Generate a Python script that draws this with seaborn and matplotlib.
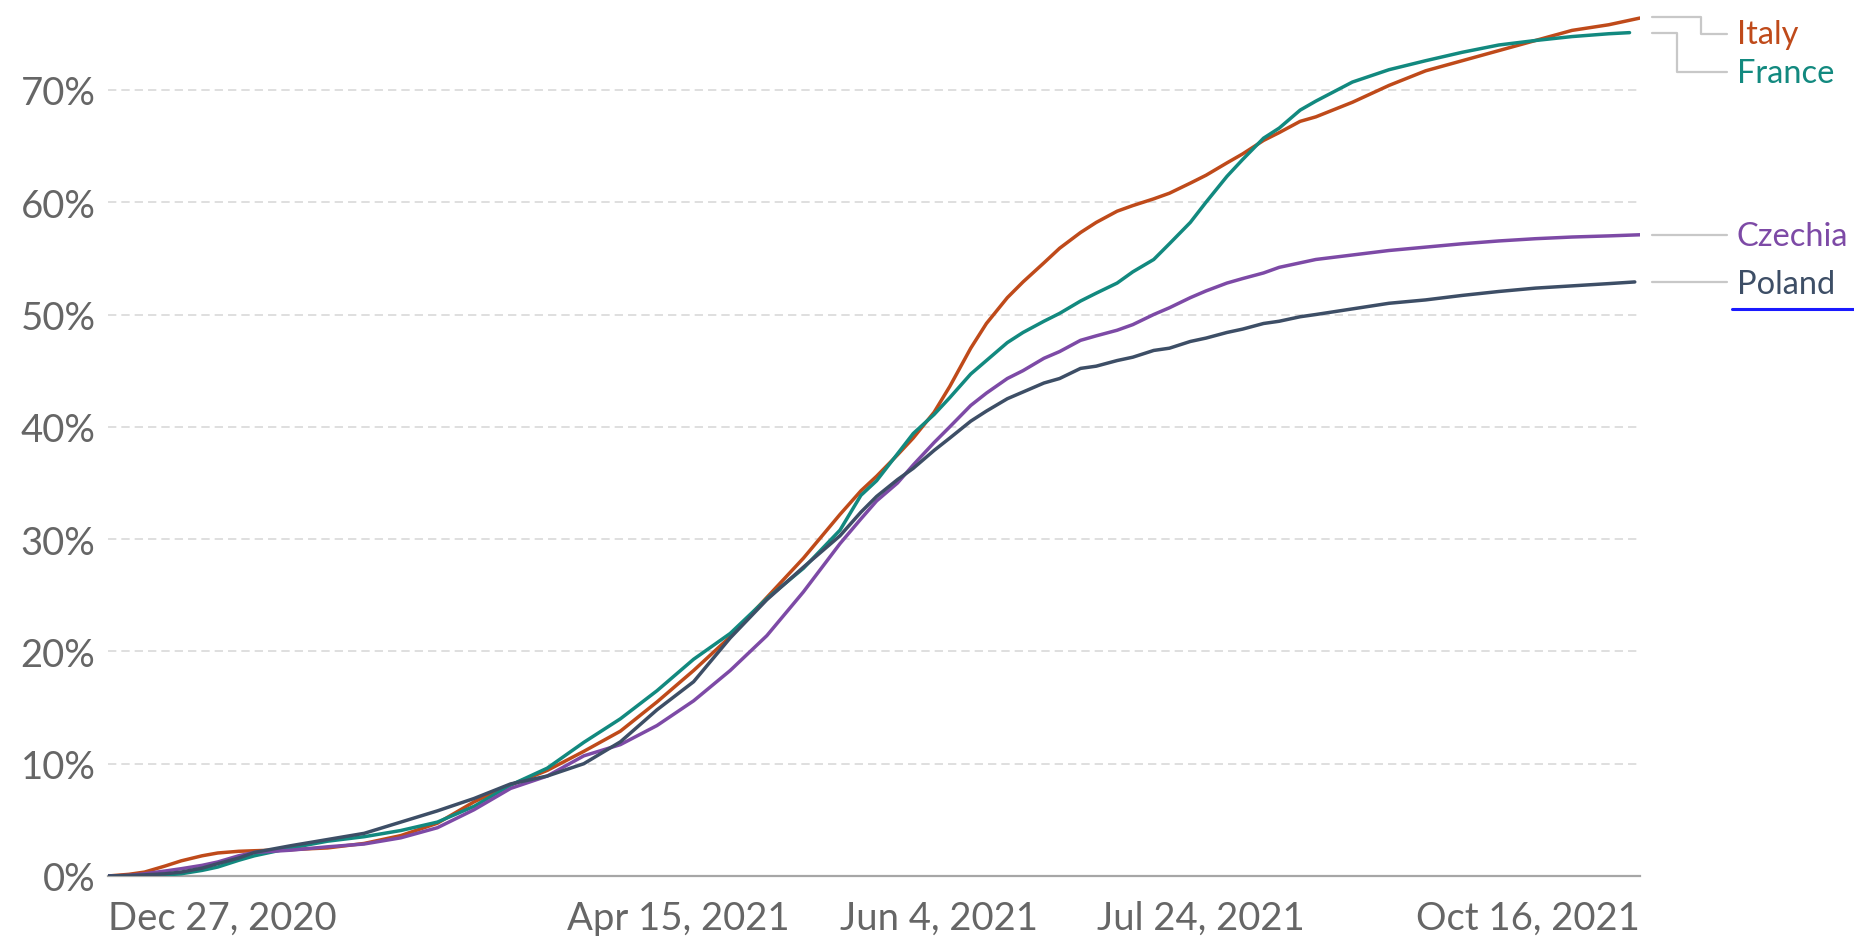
import numpy as np
import pandas as pd
import matplotlib
matplotlib.use("Agg")
import matplotlib.pyplot as plt
from matplotlib.lines import Line2D
import seaborn as sns

# ---------------- data (share of population fully vaccinated, %) ----------------
start_date = "2020-12-27"
day_offsets = [0, 4, 7, 11, 14, 18, 21, 25, 28,
               35, 42, 49, 56, 63, 70, 77, 84, 91, 98, 105, 112, 119, 126, 133, 140,
               144, 147, 151, 154, 158, 161, 165, 168, 172, 175, 179, 182, 186, 189,
               193, 196, 200, 203, 207, 210, 214, 217, 221, 224, 228, 231,
               238, 245, 252, 259, 266, 273, 280, 287]

italy = [0.0, 0.15, 0.35, 0.9, 1.35, 1.8, 2.05, 2.2, 2.25,
         2.35, 2.5, 2.9, 3.6, 4.7, 6.6, 8.1, 9.4, 11.1, 12.9, 15.5, 18.3, 21.3, 24.8, 28.3, 32.2,
         34.3, 35.6, 37.5, 39.0, 41.3, 43.6, 47.0, 49.2, 51.5, 52.9, 54.6, 55.9, 57.3, 58.2,
         59.2, 59.7, 60.3, 60.8, 61.7, 62.4, 63.5, 64.3, 65.5, 66.2, 67.2, 67.6,
         68.9, 70.4, 71.7, 72.6, 73.5, 74.4, 75.3, 75.8]
italy_last = (293, 76.4)

france = [0.0, 0.02, 0.05, 0.1, 0.2, 0.5, 0.8, 1.4, 1.8,
          2.5, 3.1, 3.5, 4.05, 4.8, 6.2, 8.1, 9.6, 11.9, 14.0, 16.5, 19.3, 21.6, 24.7, 27.4, 30.8,
          33.9, 35.2, 37.6, 39.4, 41.1, 42.6, 44.7, 45.9, 47.5, 48.4, 49.4, 50.1, 51.2, 51.9,
          52.8, 53.8, 54.9, 56.3, 58.2, 60.0, 62.3, 63.8, 65.7, 66.6, 68.2, 69.0,
          70.7, 71.8, 72.6, 73.35, 74.0, 74.4, 74.75, 75.0]
france_last = (291, 75.1)

czechia = [0.0, 0.05, 0.2, 0.45, 0.65, 0.95, 1.25, 1.8, 2.1,
           2.3, 2.6, 2.85, 3.4, 4.3, 5.9, 7.8, 8.9, 10.7, 11.7, 13.4, 15.6, 18.3, 21.4, 25.3, 29.6,
           31.8, 33.4, 35.0, 36.6, 38.6, 40.0, 41.9, 43.0, 44.3, 45.0, 46.1, 46.7, 47.7, 48.1,
           48.6, 49.1, 50.0, 50.6, 51.5, 52.1, 52.8, 53.2, 53.7, 54.2, 54.6, 54.9,
           55.3, 55.7, 56.0, 56.3, 56.55, 56.75, 56.9, 57.0]
czechia_last = (293, 57.1)

poland = [0.0, 0.05, 0.1, 0.2, 0.35, 0.7, 1.1, 1.6, 2.1,
          2.7, 3.25, 3.8, 4.8, 5.8, 6.9, 8.2, 8.9, 10.0, 11.95, 14.8, 17.3, 21.2, 24.6, 27.5, 30.3,
          32.4, 33.8, 35.3, 36.3, 37.9, 39.0, 40.5, 41.4, 42.5, 43.1, 43.9, 44.3, 45.2, 45.4,
          45.9, 46.2, 46.8, 47.0, 47.6, 47.9, 48.4, 48.7, 49.2, 49.4, 49.8, 50.0,
          50.5, 51.0, 51.3, 51.7, 52.05, 52.35, 52.55, 52.75]
poland_last = (292, 52.9)

countries = ["Italy", "France", "Czechia", "Poland"]
series = {"Italy": (italy, italy_last), "France": (france, france_last),
          "Czechia": (czechia, czechia_last), "Poland": (poland, poland_last)}
colors = {"Italy": "#BF4A1A", "France": "#12897F", "Czechia": "#7D4AA6", "Poland": "#3D4E66"}

y_ticks = [0, 10, 20, 30, 40, 50, 60, 70]
y_ticklabels = ["0%", "10%", "20%", "30%", "40%", "50%", "60%", "70%"]
x_ticks = ["2020-12-27", "2021-04-15", "2021-06-04", "2021-07-24", "2021-10-16"]
x_ticklabels = ["Dec 27, 2020", "Apr 15, 2021", "Jun 4, 2021", "Jul 24, 2021", "Oct 16, 2021"]

t0 = pd.Timestamp(start_date)
rows = []
for c in countries:
    vals, last = series[c]
    for d, v in zip(day_offsets, vals):
        rows.append((t0 + pd.Timedelta(days=d), v, c))
    rows.append((t0 + pd.Timedelta(days=last[0]), last[1], c))
df = pd.DataFrame(rows, columns=["date", "value", "country"])

# ---------------- figure ----------------
sns.set_theme(style="white")
plt.rcParams["font.family"] = ["Lato", "DejaVu Sans"]
plt.rcParams["lines.scale_dashes"] = False

W, H = 1854, 937
fig = plt.figure(figsize=(W / 100, H / 100), dpi=100)
ax = fig.add_axes([108 / W, 1 - 877 / H, (1640 - 108) / W, 864.7 / H])

sns.lineplot(data=df, x="date", y="value", hue="country", hue_order=countries,
             palette=colors, linewidth=2.5, legend=False, ax=ax, zorder=3)
for ln in ax.lines:
    ln.set_solid_joinstyle("round")
    ln.set_solid_capstyle("round")

ax.set_xlim(pd.Timestamp(x_ticks[0]), pd.Timestamp(x_ticks[-1]))
ax.set_ylim(0, 77)
ax.set_xlabel("")
ax.set_ylabel("")

for s in ["top", "right", "left"]:
    ax.spines[s].set_visible(False)
ax.spines["bottom"].set_color("#a6a6a6")
ax.spines["bottom"].set_linewidth(1.6)

ax.set_yticks(y_ticks)
ax.set_yticklabels(y_ticklabels)
for t in y_ticks[1:]:
    ax.axhline(t, color="#dcdcdc", linewidth=1.3, linestyle=(0, (6, 3.6)), zorder=1)

ax.tick_params(axis="y", length=0, pad=9, labelsize=27.5, labelcolor="#666666")
ax.set_xticks([pd.Timestamp(t) for t in x_ticks])
ax.set_xticklabels(x_ticklabels)
ax.tick_params(axis="x", length=10, width=1.3, color="#a6a6a6", pad=7,
               labelsize=27.5, labelcolor="#666666", direction="out")
xl = ax.get_xticklabels()
xl[0].set_ha("left")
xl[-1].set_ha("right")

# ---------------- end labels with connectors ----------------
def F(px, py):
    return px / W, 1 - py / H

conn = "#c8c8c8"
def pline(pts):
    xs = [p[0] / W for p in pts]
    ys = [1 - p[1] / H for p in pts]
    fig.add_artist(Line2D(xs, ys, transform=fig.transFigure, color=conn, linewidth=1.6))

pline([(1652, 18), (1701, 18), (1701, 35), (1727, 35)])
pline([(1652, 34), (1677, 34), (1677, 73), (1727, 73)])
pline([(1652, 236), (1727, 236)])
pline([(1652, 283), (1727, 283)])

label_y = {"Italy": 35, "France": 74, "Czechia": 237, "Poland": 285}
for c in countries:
    fig.text(*F(1737, label_y[c]), c, color=colors[c], fontsize=23.5,
             ha="left", va="center")

fig.add_artist(Line2D([1732 / W, 1.0], [1 - 310 / H] * 2, transform=fig.transFigure,
                      color="#1a1aff", linewidth=2.2))

fig.savefig("out.png", dpi=100, facecolor="white")
